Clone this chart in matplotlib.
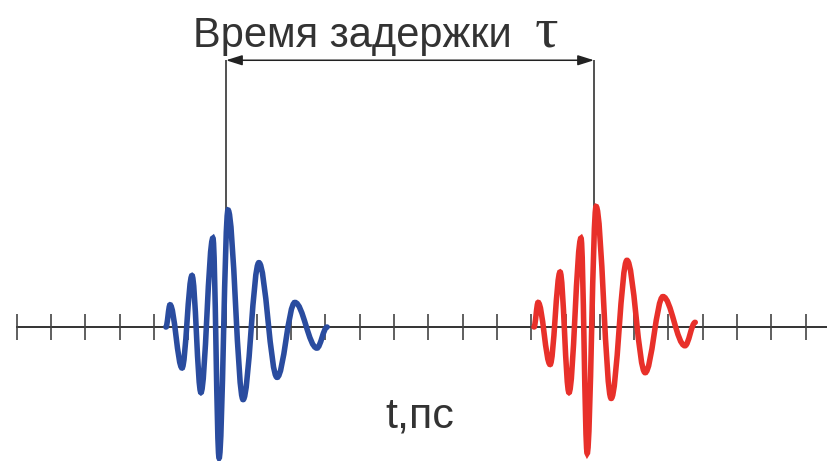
import matplotlib.pyplot as plt
from matplotlib.path import Path
from matplotlib.patches import PathPatch

# extrema of the pulse field: time in ps (one tick = 1 ps), normalised amplitude
pulse_t = [4.35, 4.47, 4.82, 5.11, 5.37, 5.72, 5.90, 6.16, 6.60, 7.06, 7.59, 8.11, 8.75, 9.05]
pulse_a = [0.0, 0.19, -0.35, 0.44, -0.56, 0.76, -1.12, 1.00, -0.62, 0.55, -0.43, 0.21, -0.18, 0.0]
red_a = [0.0, 0.21, -0.32, 0.47, -0.56, 0.76, -1.08, 1.03, -0.61, 0.57, -0.39, 0.26, -0.16, 0.04]

ref_t = 6.10      # marker on the first pulse
delay = 10.73     # delay time tau, ps
ticks = list(range(24))

arrow_a = 2.28
tick_h = 0.11


def pulse_path(t, a, shift):
    # smooth curve through the extrema, horizontal tangent at each one
    verts = [(t[0] + shift, a[0])]
    codes = [Path.MOVETO]
    for i in range(len(t) - 1):
        x0, y0 = t[i] + shift, a[i]
        x1, y1 = t[i + 1] + shift, a[i + 1]
        dx = x1 - x0
        verts += [(x0 + 0.36 * dx, y0), (x1 - 0.36 * dx, y1), (x1, y1)]
        codes += [Path.CURVE4] * 3
    return Path(verts, codes)


fig = plt.figure(figsize=(8.28, 4.61), dpi=100)
ax = fig.add_axes([0, 0, 1, 1])
ax.set_xlim(-0.487, 23.65)
ax.set_ylim(-1.145, 2.795)
ax.axis('off')

# time axis with ticks
ax.axhline(0, xmin=0.02, color='#333333', lw=1.4, zorder=1)
ax.vlines(ticks, -tick_h, tick_h, color='#444444', lw=1.2, zorder=1)

# delay markers
ax.vlines([ref_t, ref_t + delay], 0, arrow_a, color='#222222', lw=1.1, zorder=1)
ax.annotate('', xy=(ref_t, arrow_a), xytext=(ref_t + delay, arrow_a),
            arrowprops=dict(arrowstyle='<|-|>,head_length=0.7,head_width=0.22',
                            color='#222222', lw=1.1, shrinkA=0, shrinkB=0,
                            mutation_scale=14))

# pulses
ax.add_patch(PathPatch(pulse_path(pulse_t, pulse_a, 0), fill=False,
                       edgecolor='#2a4c9f', lw=4.0, capstyle='round', zorder=3))
ax.add_patch(PathPatch(pulse_path(pulse_t, red_a, delay), fill=False,
                       edgecolor='#e8302a', lw=4.0, capstyle='round', zorder=3))

# labels
ax.text(5.14, 2.39, 'Время задержки', family='Liberation Sans', fontsize=30,
        color='#333333', ha='left', va='baseline')
ax.text(15.1, 2.40, 'τ', family='Liberation Serif', fontsize=42,
        color='#333333', ha='left', va='baseline')
ax.text(10.74, -0.855, 't,пс', family='Liberation Sans', fontsize=31,
        color='#333333', ha='left', va='baseline')

fig.savefig('out.png', dpi=100)
